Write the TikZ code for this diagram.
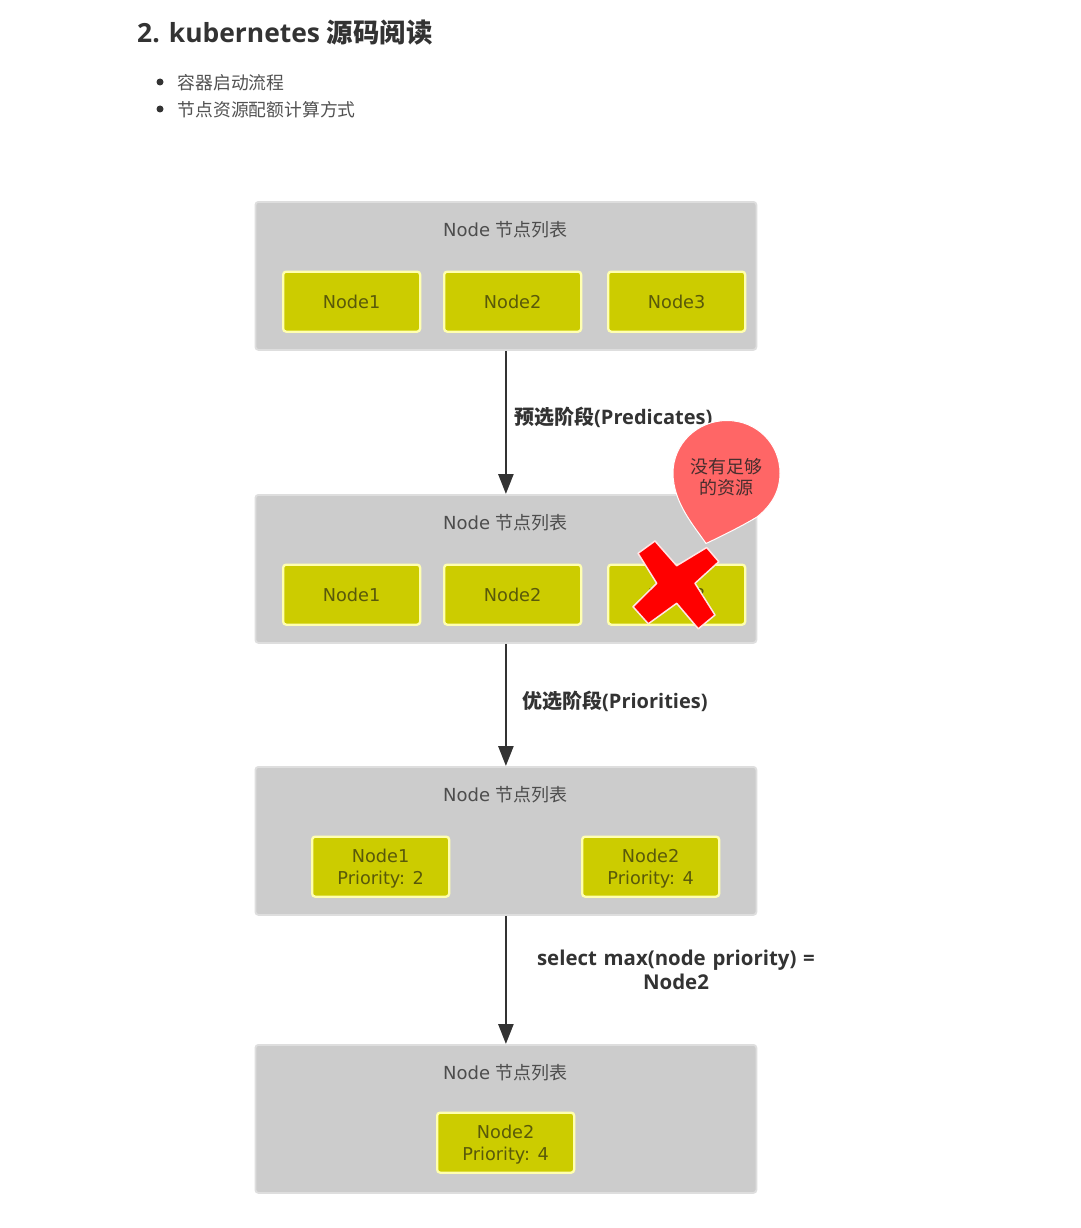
\documentclass[tikz,border=0pt]{standalone}
\usepackage{fontspec}
\setmainfont{Open Sans}
\newfontfamily\cjk{Noto Sans CJK SC}
\newfontfamily\dv{DejaVu Sans}
\newcommand{\fs}[1]{\fontsize{#1}{#1}\selectfont}
\usetikzlibrary{arrows.meta,positioning}
\definecolor{panelfill}{HTML}{CCCCCC}
\definecolor{paneledge}{HTML}{DEDEDE}
\definecolor{nodefill}{HTML}{CCCC00}
\definecolor{nodeedge}{HTML}{FFFFB0}
\definecolor{nodetext}{HTML}{59590A}
\definecolor{ink}{HTML}{333333}
\definecolor{paneltext}{HTML}{4D4D4D}
\definecolor{bubble}{HTML}{FF6666}
\tikzset{
 x=1pt,y=-1pt,
 panel/.style={rectangle,fill=panelfill,draw=paneledge,line width=1.8pt,rounded corners=3pt,minimum width=501pt,minimum height=148pt,inner sep=0pt,anchor=north west},
 nodebox/.style={rectangle,fill=nodefill,draw=nodeedge,line width=2.3pt,rounded corners=3pt,minimum width=137pt,minimum height=60pt,inner sep=0pt,anchor=north west,align=center,text=nodetext,font=\dv\fontsize{17.7}{22}\selectfont},
 paneltitle/.style={text=paneltext,inner sep=0pt,font=\dv\fs{18}},
 flow/.style={draw=ink,line width=2.6pt,-{Triangle[length=20pt,width=15pt]},shorten >=0pt},
 steplabel/.style={text=ink,inner sep=0pt,align=center,font=\bfseries\fontsize{20}{24}\selectfont},
 bodytext/.style={text=ink!85,inner sep=0pt,anchor=west,font=\cjk\fs{17.8}},
 bulletdot/.style={circle,fill=ink,inner sep=0pt,minimum size=7pt},
}
\newcommand{\ptitle}{Node {\cjk 节点列表}}
\begin{document}
\begin{tikzpicture}
\useasboundingbox (0,0) rectangle (1080,1228);
\fill[white] (0,0) rectangle (1080,1228);

\node[inner sep=0pt,anchor=west,text=ink,font=\bfseries\fs{26.4}] (title) at (137,33) {2. kubernetes {\cjk\bfseries 源码阅读}};
\node[bulletdot] (b1) at (160,82) {};
\node[bulletdot] (b2) at (160,109) {};
\node[bodytext] (t1) at (177.5,82.5) {容器启动流程};
\node[bodytext] (t2) at (177.5,109.5) {节点资源配额计算方式};

\node[panel] (p1) at (254.5,201) {};
\node[panel] (p2) at (254.5,494) {};
\node[panel] (p3) at (254.5,766) {};
\node[panel] (p4) at (254.5,1044) {};

\node[paneltitle] (pt1) at (505.5,229.5) {\ptitle};
\node[paneltitle] (pt2) at (505.5,522.5) {\ptitle};
\node[paneltitle] (pt3) at (505.5,794.5) {\ptitle};
\node[paneltitle] (pt4) at (505.5,1072.5) {\ptitle};

\node[nodebox] (a1) at (282,270.5) {Node1};
\node[nodebox] (a2) at (443,270.5) {Node2};
\node[nodebox] (a3) at (607,270.5) {Node3};
\node[nodebox] (b1n) at (282,563.5) {Node1};
\node[nodebox] (b2n) at (443,563.5) {Node2};
\node[nodebox] (b3n) at (607,563.5) {Node3};
\node[nodebox] (c1) at (311,835.5) {Node1\\\smash{Priority: 2}};
\node[nodebox] (c2) at (581,835.5) {Node2\\\smash{Priority: 4}};
\node[nodebox] (d1) at (436,1111.5) {Node2\\\smash{Priority: 4}};

\draw[flow] (p1.south) -- (p2.north);
\draw[flow] (p2.south) -- (p3.north);
\draw[flow] (p3.south) -- (p4.north);

\node[steplabel,anchor=west] (l1) at (514,417) {{\cjk\bfseries 预选阶段}(Predicates)};
\node[steplabel,anchor=west] (l2) at (522,701) {{\cjk\bfseries 优选阶段}(Priorities)};
\node[steplabel,text width=300pt,font=\bfseries\fontsize{20.4}{24}\selectfont] (l3) at (676,970) {select max(node priority) =\\Node2};

% red cross
\draw[fill=red,draw=white!90!red,line width=1.5pt,line join=round]
 (655,541) -- (676.7,565.7) -- (706.7,547.5) -- (718.8,561.7) -- (695,583.3) -- (715,615) -- (698.3,628.8) -- (676.7,603.3) -- (648.3,623.8) -- (633,606.7) -- (656.7,583.3) -- (638,553.3) -- cycle;

% callout
\draw[fill=bubble,draw=white,line width=1pt,line join=round]
 (706,543.5) .. controls (695,527) and (673,503) .. (673,473)
 .. controls (673,444) and (697,420.5) .. (727,420.5)
 .. controls (757,420.5) and (780,444) .. (780,473)
 .. controls (780,491) and (772,505) .. (757,517)
 .. controls (742,526) and (722,536) .. (706,543.5) -- cycle;
\node[inner sep=0pt,align=center,text=ink!90!red,font=\cjk\fontsize{18}{21}\selectfont] (bubbletext) at (726,477) {没有足够\\的资源};
\end{tikzpicture}
\end{document}
